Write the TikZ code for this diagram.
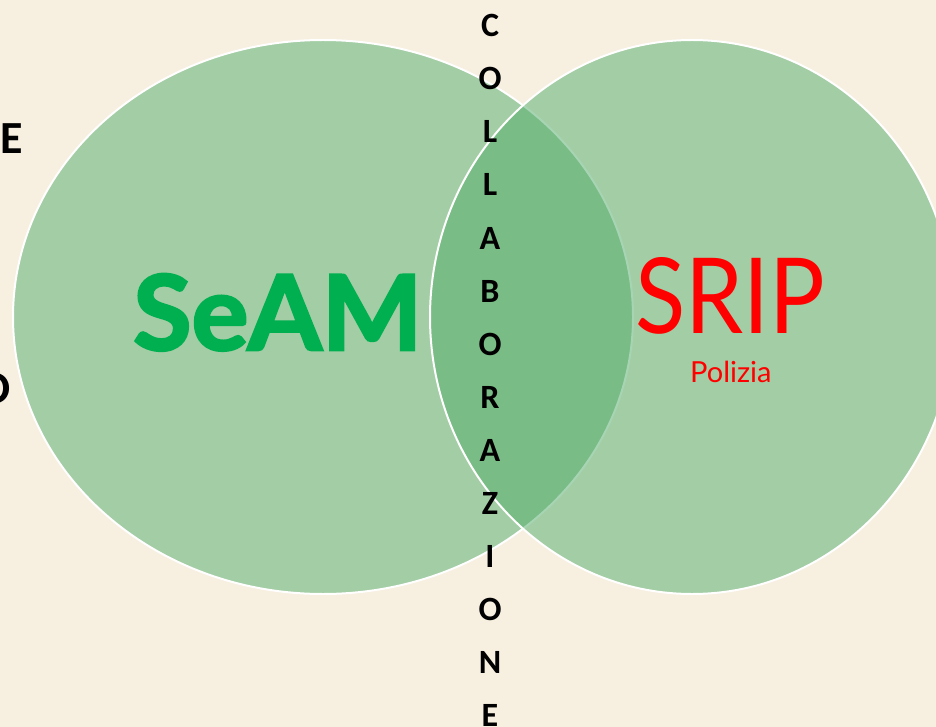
\documentclass[tikz,border=0pt]{standalone}
\usepackage{fontspec}
\setmainfont{Carlito}
\newfontfamily\gill{Lato}
\newfontfamily\gillheavy{Lato}[BoldFeatures={FakeBold=2.5}]
\definecolor{bg}{RGB}{247,239,224}
\definecolor{vgreen}{RGB}{80,172,106}
\definecolor{seamgreen}{RGB}{0,176,80}
\begin{document}
\begin{tikzpicture}[x=1pt,y=-1pt,
  venn/.style={fill=vgreen, fill opacity=0.5, draw=white, draw opacity=1, line width=2pt},
  letter/.style={font=\bfseries\fontsize{34}{34}\selectfont, anchor=base, inner sep=0pt},
  edge/.style={font=\bfseries\fontsize{46}{46}\selectfont, anchor=base east, inner sep=0pt}]
\useasboundingbox (0,0) rectangle (936,727);
\fill[bg] (0,0) rectangle (936,727);
\begin{scope}
  \clip (0,0) rectangle (936,727);
  \draw[venn] (323,317) ellipse [x radius=310, y radius=277];
  \draw[venn] (692,317) ellipse [x radius=262, y radius=277];
  \node[edge] (se) at (23,154) {SE};
  \node[edge] (o) at (11,403) {O};
\end{scope}
\node[font=\gillheavy\bfseries, text=seamgreen, anchor=base west, inner sep=0pt] (seam) at (133,350) {\resizebox{289pt}{76pt}{SeAM}};
\node[font=\gill, text=red, anchor=base west, inner sep=0pt] (srip) at (635,333) {\resizebox{190pt}{76pt}{SRIP}};
\node[font=\gill\fontsize{29}{29}\selectfont, text=red, anchor=base west, inner sep=0pt] (pol) at (690,382) {Polizia};
\foreach \l [count=\i from 0] in {C,O,L,L,A,B,O,R,A,Z,I,O,N,E}
  \node[letter] (c\i) at (490,{37+53*\i}) {\l};
\end{tikzpicture}
\end{document}
